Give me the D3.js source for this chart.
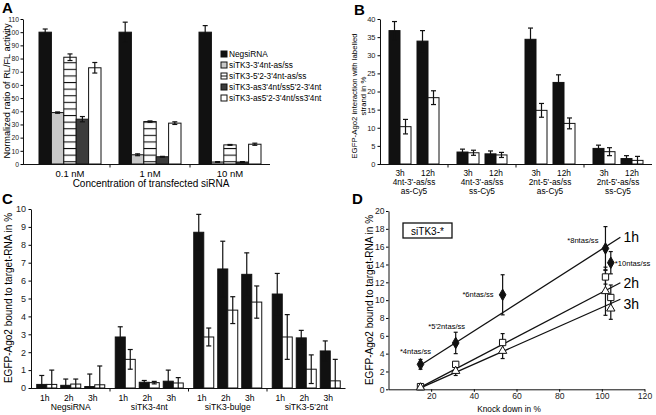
<!DOCTYPE html>
<html>
<head>
  <meta charset="utf-8">
  <title>siTK3 figure</title>
  <style>
    body { margin: 0; background: #fff; }
    svg { font-family: "Liberation Sans", Arial, sans-serif; }
    .tick text { fill: #222; }
  </style>
</head>
<body>
  <div id="fig"></div>
  <script src="https://cdn.jsdelivr.net/npm/d3@7"></script>
  <script>
    // ---------------- data ----------------
    // Panel A
    let aGroups = ['0.1 nM', '1 nM', '10 nM'];
    let aSeries = ['NegsiRNA', "siTK3-3'4nt-as/ss", "siTK3-5'2-3'4nt-as/ss", "siTK3-as3'4nt/ss5'2-3'4nt", "siTK3-as5'2-3'4nt/ss3'4nt"];
    let aValues = [[100, 39, 81, 34, 73], [100, 7, 32.2, 5.5, 31], [100, 1.5, 14.5, 1.5, 15]];
    let aErrors = [[2.4, 0.5, 2.5, 2, 4], [7.6, 0.7, 0.5, 0.3, 1], [5, 0.3, 0.3, 0.3, 0.8]];
    let aTicks = [0, 10, 20, 30, 40, 50, 60, 70, 80, 90, 100, 110];

    // Panel B
    let bLine1 = ["4nt-3'-as/ss", "4nt-3'-as/ss", "2nt-5'-as/ss", "2nt-5'-as/ss"];
    let bLine2 = ['as-Cy5', 'ss-Cy5', 'as-Cy5', 'ss-Cy5'];
    let bTimes = ['3h', '12h'];
    let bBlack = [[36.8, 33.9], [3.3, 2.8], [34.4, 22.5], [4.3, 1.5]];
    let bBlackErr = [[2.5, 2.9], [0.8, 0.8], [3.1, 2.1], [0.9, 0.8]];
    let bWhite = [[10.3, 18.3], [3.1, 2.5], [14.8, 11.2], [3.4, 1.0]];
    let bWhiteErr = [[2.0, 1.9], [0.7, 0.7], [1.9, 1.5], [1.1, 1.1]];
    let bTicks = [0, 5, 10, 15, 20, 25, 30, 35, 40];

    // Panel C
    let cGroups = ['NegsiRNA', 'siTK3-4nt', 'siTK3-bulge', "siTK3-5'2nt"];
    let cTimes = ['1h', '2h', '3h'];
    let cBlack = [[0.2, 0.15, 0.08], [2.85, 0.32, 0.38], [8.7, 6.65, 6.35], [5.25, 2.8, 2.07]];
    let cBlackErr = [[0.5, 0.35, 0.7], [0.57, 0.1, 0.62], [1.0, 1.55, 1.2], [1.15, 0.42, 0.56]];
    let cWhite = [[0.2, 0.22, 0.18], [1.6, 0.3, 0.28], [2.85, 4.35, 4.8], [2.85, 1.05, 0.4]];
    let cWhiteErr = [[0.8, 0.28, 1.05], [0.55, 0.07, 0.3], [0.5, 0.75, 0.9], [1.25, 0.8, 1.2]];
    let cTicks = [0, 1, 2, 3, 4, 5, 6, 7, 8, 9, 10];

    // Panel D
    let dKnock = [15, 31.5, 53.5, 101.7, 104.2];
    let d1h = [2.8, 5.2, 10.6, 15.8, 14.2];
    let d1hErr = [0.55, 1.2, 2.25, 2.45, 1.25];
    let d2h = [0.3, 2.8, 5.25, 12.6, 10.3];
    let d2hErr = [0.1, 0.3, 1.0, 0.8, 1.4];
    let d3h = [0.2, 2.05, 4.3, 11.0, 9.05];
    let d3hErr = [0.1, 0.5, 0.85, 2.7, 1.2];
    let dFitX = [14, 108.7];
    let d1hFit = [2.55, 17.05];
    let d2hFit = [0.1, 11.95];
    let d3hFit = [0.05, 10.1];
    let dNotes = ['*4ntas/ss', "*5'2ntas/ss", '*6ntas/ss', '*8ntas/ss', '*10ntas/ss'];
    let dYTicks = [0, 2, 4, 6, 8, 10, 12, 14, 16, 18, 20];
    let dXTicks = [20, 40, 60, 80, 100, 120];

    function translate(x, y) {
      return 'translate(' + x + ',' + y + ')';
    }

    let svg = d3.select('#fig').append('svg')
      .attr('width', 656)
      .attr('height', 415);

    // stripe pattern for panel A
    let pat = svg.append('defs').append('pattern')
      .attr('id', 'stripes')
      .attr('patternUnits', 'userSpaceOnUse')
      .attr('width', 10).attr('height', 6.6);
    pat.append('rect').attr('width', 10).attr('height', 6.6).attr('fill', '#fff');
    pat.append('rect').attr('y', 2.8).attr('width', 10).attr('height', 1.1).attr('fill', '#111');

    // error bar helper: vertical line with caps
    function errBar(g, x, y, v, e, cap) {
      let lo = Math.max(0, v - e), hi = v + e;
      g.append('line').attr('x1', x).attr('x2', x).attr('y1', y(lo)).attr('y2', y(hi))
        .attr('stroke', '#111').attr('stroke-width', 1.2);
      [lo, hi].forEach(d => {
        if (d === 0) return;
        g.append('line').attr('x1', x - cap).attr('x2', x + cap).attr('y1', y(d)).attr('y2', y(d))
          .attr('stroke', '#111').attr('stroke-width', 1.2);
      });
    }

    function panelLetter(x, y, t) {
      svg.append('text').attr('x', x).attr('y', y).text(t)
        .style('font-size', '15px').style('font-weight', 'bold');
    }

    function yAxisDraw(g, y, ticks, fs, pad) {
      let ax = g.append('g').call(d3.axisLeft(y).tickValues(ticks).tickSize(2.5).tickPadding(pad).tickSizeOuter(0));
      ax.selectAll('text').style('font-size', fs + 'px');
      ax.select('.domain').attr('stroke', '#111');
      return ax;
    }

    // x axis line with ticks at the group borders
    function groupAxis(g, x0, x1, y0, borders) {
      g.append('line').attr('x1', x0).attr('x2', x1).attr('y1', y0).attr('y2', y0)
        .attr('stroke', '#111').attr('stroke-width', 1.2);
      borders.forEach(b => {
        g.append('line').attr('x1', b).attr('x2', b).attr('y1', y0).attr('y2', y0 + 3)
          .attr('stroke', '#111');
      });
    }

    //============================== Panel A ==============================//
    let gA = svg.append('g');
    let yA = d3.scaleLinear().domain([0, 110]).range([164, 19]);
    let xA = d3.scaleBand().domain(aGroups).range([30, 270]);
    let xAin = d3.scaleBand().domain(aSeries).range([9, 71]);
    let aFill = ['#111', '#c8c8c8', 'url(#stripes)', '#3c3c3c', '#fff'];

    aGroups.forEach((grp, i) => {
      aSeries.forEach((s, j) => {
        let x = xA(grp) + xAin(s);
        gA.append('rect')
          .attr('x', x).attr('y', yA(aValues[i][j]))
          .attr('width', xAin.bandwidth()).attr('height', yA(0) - yA(aValues[i][j]))
          .attr('fill', aFill[j]).attr('stroke', '#111').attr('stroke-width', 1);
        errBar(gA, x + xAin.bandwidth() / 2, yA, aValues[i][j], aErrors[i][j], 2.5);
      });
      gA.append('text').attr('x', xA(grp) + xA.bandwidth() / 2).attr('y', 177)
        .attr('text-anchor', 'middle').style('font-size', '9.5px').text(grp);
    });
    groupAxis(gA, 23, 270, 164.5, [xA(aGroups[1]), xA(aGroups[2])]);
    yAxisDraw(gA.append('g').attr('transform', translate(23, 0)), yA, aTicks, 6.8, 1.5);

    gA.append('text').attr('x', 151).attr('y', 187).attr('text-anchor', 'middle')
      .style('font-size', '10px').text('Concentration of transfected siRNA');
    gA.append('text').attr('transform', translate(9.5, 91) + ' rotate(-90)')
      .attr('text-anchor', 'middle').style('font-size', '9.2px').text('Normalized ratio of RL/FL activity');

    // legend
    let legA = gA.selectAll('.legA').data(aSeries).enter().append('g')
      .attr('transform', (d, i) => translate(221, 51 + i * 11));
    legA.append('rect').attr('width', 6).attr('height', 6)
      .attr('fill', (d, i) => i === 2 ? '#fff' : aFill[i]).attr('stroke', '#111');
    legA.filter((d, i) => i === 2).append('line')
      .attr('x1', 0).attr('x2', 6).attr('y1', 3).attr('y2', 3).attr('stroke', '#111');
    legA.append('text').attr('x', 8).attr('y', 6).style('font-size', '8.3px').text(d => d);
    panelLetter(2, 13, 'A');

    //============================== Panel B ==============================//
    let gB = svg.append('g');
    let yB = d3.scaleLinear().domain([0, 40]).range([164, 19]);
    let xB = d3.scaleBand().domain(d3.range(bLine1.length)).range([380, 652]);
    let xBt = d3.scalePoint().domain(bTimes).range([-14, 14]);
    let xBp = d3.scaleBand().domain(['black', 'white']).range([-11, 11]);

    bLine1.forEach((lab, i) => {
      let c = xB(i) + xB.bandwidth() / 2;
      bTimes.forEach((t, k) => {
        let cx = c + xBt(t);
        [['black', bBlack, bBlackErr, '#111'], ['white', bWhite, bWhiteErr, '#fff']].forEach(p => {
          let v = p[1][i][k];
          let x = cx + xBp(p[0]);
          gB.append('rect').attr('x', x).attr('y', yB(v))
            .attr('width', xBp.bandwidth()).attr('height', yB(0) - yB(v))
            .attr('fill', p[3]).attr('stroke', '#111');
          errBar(gB, x + xBp.bandwidth() / 2, yB, v, p[2][i][k], 2.5);
        });
        gB.append('text').attr('x', cx).attr('y', 176).attr('text-anchor', 'middle')
          .style('font-size', '8.3px').text(t);
      });
      gB.append('text').attr('x', c).attr('y', 185).attr('text-anchor', 'middle')
        .style('font-size', '8.3px').text(lab);
      gB.append('text').attr('x', c).attr('y', 194).attr('text-anchor', 'middle')
        .style('font-size', '8.3px').text(bLine2[i]);
    });
    groupAxis(gB, 380, 652, 164.5, [1, 2, 3].map(i => xB(i)));
    yAxisDraw(gB.append('g').attr('transform', translate(380, 0)), yB, bTicks, 7.5, 2);
    gB.append('text').attr('transform', translate(357, 96) + ' rotate(-90)')
      .attr('text-anchor', 'middle').style('font-size', '7.8px').text('EGFP-Ago2 interaction with labelled');
    gB.append('text').attr('transform', translate(366, 96) + ' rotate(-90)')
      .attr('text-anchor', 'middle').style('font-size', '7.8px').text('strand in %');
    panelLetter(354, 15, 'B');

    //============================== Panel C ==============================//
    let gC = svg.append('g');
    let yC = d3.scaleLinear().domain([0, 10]).range([388, 209]);
    let xC = d3.scaleBand().domain(cGroups).range([31.5, 345.5]);
    let xCt = d3.scalePoint().domain(cTimes).range([-24, 24]);
    let xCp = d3.scaleBand().domain(['black', 'white']).range([-10, 10]);

    cGroups.forEach((grp, i) => {
      let c = xC(grp) + xC.bandwidth() / 2;
      cTimes.forEach((t, k) => {
        let cx = c + xCt(t);
        [['black', cBlack, cBlackErr, '#111'], ['white', cWhite, cWhiteErr, '#fff']].forEach(p => {
          let v = p[1][i][k];
          let x = cx + xCp(p[0]);
          gC.append('rect').attr('x', x).attr('y', yC(v))
            .attr('width', xCp.bandwidth()).attr('height', yC(0) - yC(v))
            .attr('fill', p[3]).attr('stroke', '#111');
          errBar(gC, x + xCp.bandwidth() / 2, yC, v, p[2][i][k], 2.5);
        });
        gC.append('text').attr('x', cx - 2).attr('y', 401).attr('text-anchor', 'middle')
          .style('font-size', '8.6px').text(t);
      });
      gC.append('text').attr('x', c).attr('y', 410).attr('text-anchor', 'middle')
        .style('font-size', '8.6px').text(grp);
    });
    groupAxis(gC, 31, 345.5, 388.5, cGroups.slice(1).map(g => xC(g)));
    yAxisDraw(gC.append('g').attr('transform', translate(31, 0)), yC, cTicks, 9, 2.5);
    gC.append('text').attr('transform', translate(12, 298) + ' rotate(-90)')
      .attr('text-anchor', 'middle').style('font-size', '10px').text('EGFP-Ago2 bound to target-RNA in %');
    panelLetter(2, 204, 'C');

    //============================== Panel D ==============================//
    let gD = svg.append('g');
    let xD = d3.scaleLinear().domain([0, 120]).range([388.5, 644.5]);
    let yD = d3.scaleLinear().domain([0, 20]).range([389.3, 211]);

    let xAxD = gD.append('g').attr('transform', translate(0, 389.3))
      .call(d3.axisBottom(xD).tickValues(dXTicks).tickSize(2.5).tickPadding(1.5).tickSizeOuter(0));
    xAxD.selectAll('text').style('font-size', '8.6px');
    xAxD.select('.domain').attr('stroke', '#111');
    yAxisDraw(gD.append('g').attr('transform', translate(388.5, 0)), yD, dYTicks, 8.6, 1.5);

    gD.append('text').attr('x', 509).attr('y', 412).attr('text-anchor', 'middle')
      .style('font-size', '8.3px').text('Knock down in %');
    gD.append('text').attr('transform', translate(373, 300) + ' rotate(-90)')
      .attr('text-anchor', 'middle').style('font-size', '10px').text('EGFP-Ago2 bound to target-RNA in %');

    let dSeries = [
      { name: '1h', v: d1h, e: d1hErr, fit: d1hFit, sym: d3.symbolDiamond, fill: '#111', size: 38, dy: 5 },
      { name: '2h', v: d2h, e: d2hErr, fit: d2hFit, sym: d3.symbolSquare, fill: '#fff', size: 40, dy: 5 },
      { name: '3h', v: d3h, e: d3hErr, fit: d3hFit, sym: d3.symbolTriangle, fill: '#fff', size: 30, dy: 10 }
    ];

    // fitted lines
    dSeries.forEach(s => {
      gD.append('line')
        .attr('x1', xD(dFitX[0])).attr('y1', yD(s.fit[0]))
        .attr('x2', xD(dFitX[1])).attr('y2', yD(s.fit[1]))
        .attr('stroke', '#111').attr('stroke-width', 1.3);
      gD.append('text').attr('x', xD(dFitX[1]) + 3).attr('y', yD(s.fit[1]) + s.dy)
        .style('font-size', '14px').text(s.name);
    });
    // error bars then markers
    dSeries.forEach(s => {
      dKnock.forEach((k, i) => errBar(gD, xD(k), yD, s.v[i], s.e[i], 2));
    });
    dSeries.forEach(s => {
      gD.selectAll(null).data(dKnock).enter().append('path')
        .attr('d', d3.symbol().type(s.sym).size(s.size))
        .attr('transform', (d, i) => translate(xD(d), yD(s.v[i])))
        .attr('fill', s.fill).attr('stroke', '#111').attr('stroke-width', 1);
    });

    // annotations next to the 1h points
    let noteOff = [[-5, -10, 'middle'], [-9, -14, 'middle'], [-9, 2, 'end'], [-7, -5, 'end'], [4, 3, 'start']];
    dNotes.forEach((t, i) => {
      gD.append('text')
        .attr('x', xD(dKnock[i]) + noteOff[i][0])
        .attr('y', yD(d1h[i]) + noteOff[i][1])
        .attr('text-anchor', noteOff[i][2])
        .style('font-size', '7.6px').text(t);
    });

    // label box
    gD.append('rect').attr('x', 403).attr('y', 223).attr('width', 49).attr('height', 15)
      .attr('fill', '#fff').attr('stroke', '#111').attr('stroke-width', 1.3);
    gD.append('text').attr('x', 427.5).attr('y', 234.5).attr('text-anchor', 'middle')
      .style('font-size', '10px').text('siTK3-*');
    panelLetter(352, 204, 'D');
  </script>
</body>
</html>
